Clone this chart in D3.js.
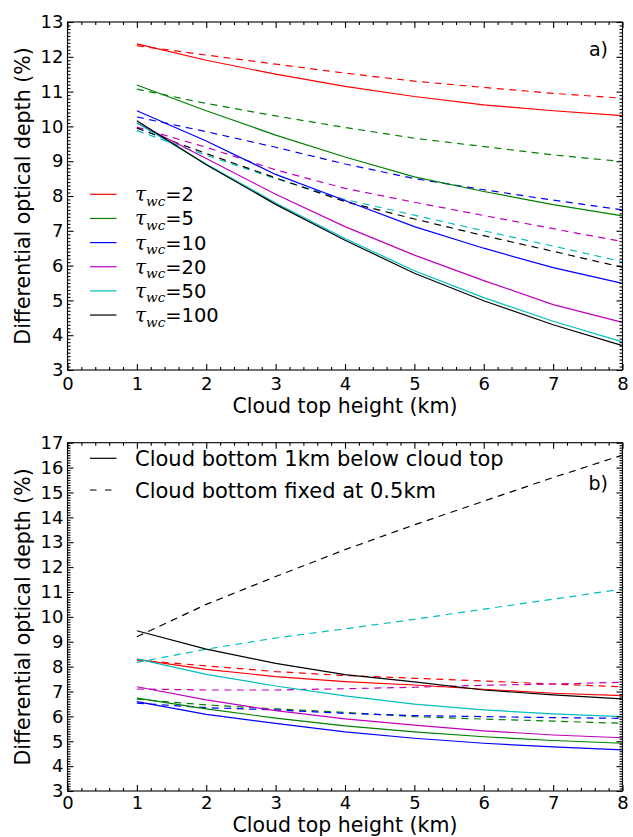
<!DOCTYPE html>
<html>
<head>
<meta charset="utf-8">
<script src="https://cdn.jsdelivr.net/npm/d3@7"></script>
<style>
  html, body { margin: 0; padding: 0; background: #fff; }
  svg { display: block; }
  text { font-family: "DejaVu Sans", sans-serif; fill: #000; }
</style>
</head>
<body>
<svg id="fig" width="633" height="837"></svg>
<script>
// Cloud top heights (km) at which each curve is sampled
const heights = [1, 2, 3, 4, 5, 6, 7, 8];

// Water cloud optical thickness for each curve, and its colour
const tauLabels = ["2", "5", "10", "20", "50", "100"];
const tauColors = ["#ff0000", "#008000", "#0000ff", "#bf00bf", "#00bfbf", "#000000"];

// Panel a) solid curves, one per tau
const aSolidTau2   = [12.37, 11.90, 11.50, 11.15, 10.86, 10.62, 10.45, 10.31];
const aSolidTau5   = [11.19, 10.45, 9.75, 9.12, 8.55, 8.13, 7.75, 7.43];
const aSolidTau10  = [10.45, 9.58, 8.62, 7.87, 7.12, 6.50, 5.94, 5.49];
const aSolidTau20  = [10.10, 9.08, 8.05, 7.12, 6.30, 5.57, 4.88, 4.37];
const aSolidTau50  = [10.10, 8.92, 7.80, 6.78, 5.85, 5.08, 4.40, 3.81];
const aSolidTau100 = [10.16, 8.90, 7.76, 6.73, 5.78, 4.99, 4.30, 3.70];

// Panel a) dashed curves, one per tau
const aDashTau2   = [12.32, 12.05, 11.79, 11.53, 11.30, 11.12, 10.95, 10.81];
const aDashTau5   = [11.07, 10.66, 10.30, 9.97, 9.66, 9.42, 9.18, 8.99];
const aDashTau10  = [10.27, 9.85, 9.40, 8.92, 8.50, 8.18, 7.88, 7.60];
const aDashTau20  = [9.98, 9.40, 8.75, 8.22, 7.82, 7.44, 7.06, 6.69];
const aDashTau50  = [9.88, 9.17, 8.50, 7.90, 7.45, 7.00, 6.56, 6.11];
const aDashTau100 = [9.95, 9.22, 8.52, 7.84, 7.34, 6.86, 6.41, 5.95];

// Panel b) solid curves: cloud bottom 1 km below cloud top
const bSolidTau2   = [8.29, 7.89, 7.60, 7.40, 7.26, 7.09, 6.93, 6.83];
const bSolidTau5   = [6.73, 6.30, 5.93, 5.62, 5.38, 5.18, 5.03, 4.92];
const bSolidTau10  = [6.59, 6.08, 5.72, 5.38, 5.12, 4.92, 4.77, 4.65];
const bSolidTau20  = [7.19, 6.66, 6.23, 5.90, 5.65, 5.42, 5.25, 5.14];
const bSolidTau50  = [8.31, 7.69, 7.22, 6.82, 6.49, 6.26, 6.10, 5.99];
const bSolidTau100 = [9.44, 8.70, 8.13, 7.68, 7.39, 7.06, 6.86, 6.70];

// Panel b) dashed curves: cloud bottom fixed at 0.5 km
const bDashTau2   = [8.26, 8.03, 7.80, 7.64, 7.53, 7.42, 7.30, 7.19];
const bDashTau5   = [6.69, 6.46, 6.30, 6.16, 5.99, 5.89, 5.81, 5.72];
const bDashTau10  = [6.53, 6.35, 6.26, 6.12, 6.03, 5.99, 5.95, 5.92];
const bDashTau20  = [7.10, 7.06, 7.06, 7.11, 7.17, 7.25, 7.30, 7.37];
const bDashTau50  = [8.17, 8.70, 9.15, 9.52, 9.90, 10.31, 10.71, 11.12];
const bDashTau100 = [9.20, 10.50, 11.62, 12.70, 13.70, 14.65, 15.60, 16.50];

// Axis ranges and tick labels
const xDomain = [0, 8];
const xTicks = [0, 1, 2, 3, 4, 5, 6, 7, 8];
const aYDomain = [3, 13];
const aYTicks = [3, 4, 5, 6, 7, 8, 9, 10, 11, 12, 13];
const bYDomain = [3, 17];
const bYTicks = [3, 4, 5, 6, 7, 8, 9, 10, 11, 12, 13, 14, 15, 16, 17];

const xLabel = "Cloud top height (km)";
const yLabel = "Differential optical depth (%)";
const bLegendLabels = ["Cloud bottom 1km below cloud top", "Cloud bottom fixed at 0.5km"];

const panels = [
  {
    tag: "a)", tagDrop: 33.5, top: 22, bottom: 370, tickPad: 7, titleGap: 43.3,
    yDomain: aYDomain, yTicks: aYTicks,
    solid: [aSolidTau2, aSolidTau5, aSolidTau10, aSolidTau20, aSolidTau50, aSolidTau100],
    dashed: [aDashTau2, aDashTau5, aDashTau10, aDashTau20, aDashTau50, aDashTau100]
  },
  {
    tag: "b)", tagDrop: 47, top: 442.7, bottom: 791, tickPad: 5, titleGap: 41,
    yDomain: bYDomain, yTicks: bYTicks,
    solid: [bSolidTau2, bSolidTau5, bSolidTau10, bSolidTau20, bSolidTau50, bSolidTau100],
    dashed: [bDashTau2, bDashTau5, bDashTau10, bDashTau20, bDashTau50, bDashTau100]
  }
];

const left = 67.5, right = 622.5;
const tickFont = 18;
const labelFont = 20.5;
const dashPattern = "7,5.5";
const svg = d3.select("#fig");
svg.append("rect").attr("width", 633).attr("height", 837).attr("fill", "#fff");

const x = d3.scaleLinear().domain(xDomain).range([left, right]);

function minorValues(lo, hi, step) {
  const n = Math.round((hi - lo) / step);
  const out = [];
  for (let i = 0; i <= n; i++) {
    const v = +(lo + i * step).toFixed(4);
    if (Math.abs(v - Math.round(v)) > 1e-6) out.push(v);
  }
  return out;
}

panels.forEach((p, pi) => {
  const y = d3.scaleLinear().domain(p.yDomain).range([p.bottom, p.top]);
  const g = svg.append("g");

  // data curves: dashed first, solid on top
  const line = d3.line().x((d, i) => x(heights[i])).y(d => y(d));
  p.dashed.forEach((vals, k) => {
    g.append("path").datum(vals).attr("d", line)
      .attr("fill", "none").attr("stroke", tauColors[k]).attr("stroke-width", 1.2)
      .attr("stroke-dasharray", dashPattern);
  });
  p.solid.forEach((vals, k) => {
    g.append("path").datum(vals).attr("d", line)
      .attr("fill", "none").attr("stroke", tauColors[k]).attr("stroke-width", 1.2);
  });

  // axes with inward ticks on every side
  const xMinor = minorValues(xDomain[0], xDomain[1], 0.2);
  const yMinor = minorValues(p.yDomain[0], p.yDomain[1], 0.1);
  const addAxis = (axis, tx, ty, withLabels) => {
    const a = g.append("g").attr("transform", `translate(${tx},${ty})`).call(axis);
    a.select(".domain").remove();
    a.selectAll("line").attr("stroke", "#000").attr("stroke-width", 1.1);
    a.selectAll("text").attr("font-family", "DejaVu Sans").attr("font-size", tickFont).attr("fill", "#000");
    if (!withLabels) a.selectAll("text").remove();
    return a;
  };
  addAxis(d3.axisBottom(x).tickValues(xTicks).tickFormat(d3.format("d")).tickSize(-6).tickPadding(p.tickPad), 0, p.bottom, true);
  addAxis(d3.axisBottom(x).tickValues(xMinor).tickFormat("").tickSize(-3), 0, p.bottom, false);
  addAxis(d3.axisTop(x).tickValues(xTicks).tickSize(-6), 0, p.top, false);
  addAxis(d3.axisTop(x).tickValues(xMinor).tickSize(-3), 0, p.top, false);
  addAxis(d3.axisLeft(y).tickValues(p.yTicks).tickFormat(d3.format("d")).tickSize(-6).tickPadding(4), left, 0, true);
  addAxis(d3.axisLeft(y).tickValues(yMinor).tickFormat("").tickSize(-3), left, 0, false);
  addAxis(d3.axisRight(y).tickValues(p.yTicks).tickSize(-6), right, 0, false);
  addAxis(d3.axisRight(y).tickValues(yMinor).tickSize(-3), right, 0, false);

  g.append("rect").attr("x", left).attr("y", p.top)
    .attr("width", right - left).attr("height", p.bottom - p.top)
    .attr("fill", "none").attr("stroke", "#000").attr("stroke-width", 1.1);

  // axis titles
  g.append("text").attr("x", (left + right) / 2).attr("y", p.bottom + p.titleGap)
    .attr("text-anchor", "middle").attr("font-size", labelFont).text(xLabel);
  g.append("text")
    .attr("transform", `translate(30,${(p.top + p.bottom) / 2}) rotate(-90)`)
    .attr("text-anchor", "middle").attr("font-size", labelFont).text(yLabel);

  // panel tag
  g.append("text").attr("x", 608).attr("y", p.top + p.tagDrop)
    .attr("text-anchor", "end").attr("font-size", 19).text(p.tag);

  // legends
  if (pi === 0) {
    tauLabels.forEach((lab, k) => {
      const ly = 194.3 + k * 24.15;
      g.append("line").attr("x1", 90).attr("x2", 116.5).attr("y1", ly).attr("y2", ly)
        .attr("stroke", tauColors[k]).attr("stroke-width", 1.2);
      const t = g.append("text").attr("x", 135).attr("y", ly + 7).attr("font-size", 19.5);
      t.append("tspan").attr("font-family", "DejaVu Serif").attr("font-style", "italic")
        .attr("font-size", 20).text("τ");
      t.append("tspan").attr("font-family", "DejaVu Serif").attr("font-style", "italic")
        .attr("font-size", 13.5).attr("dy", 4.5).text("wc");
      t.append("tspan").attr("font-family", "DejaVu Sans").attr("dy", -4.5).text("=" + lab);
    });
  } else {
    bLegendLabels.forEach((lab, k) => {
      const ly = 458.3 + k * 31.7;
      const ln = g.append("line").attr("x1", 90).attr("x2", 116.5).attr("y1", ly).attr("y2", ly)
        .attr("stroke", "#000").attr("stroke-width", 1.2);
      if (k === 1) ln.attr("stroke-dasharray", "6.5,8.5");
      g.append("text").attr("x", 135).attr("y", ly + 7.5).attr("font-size", 21).text(lab);
    });
  }
});
</script>
</body>
</html>
